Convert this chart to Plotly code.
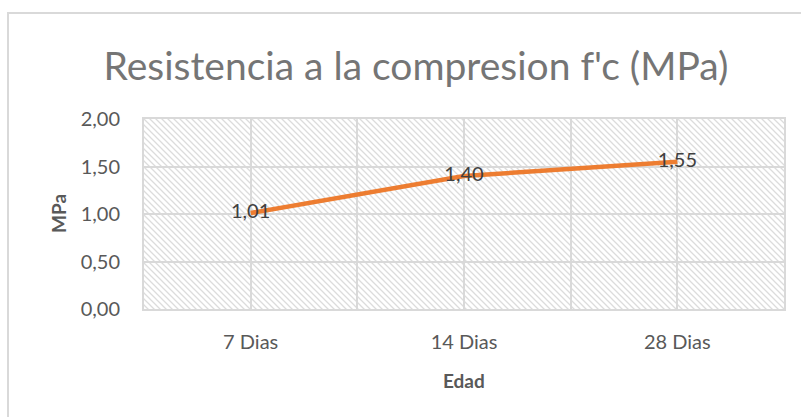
import base64
import plotly.graph_objects as go

categories = ["7 Dias", "14 Dias", "28 Dias"]
resistencia = [1.01, 1.40, 1.55]
y_ticks = [0, 0.5, 1.0, 1.5, 2.0]

title_text = "Resistencia a la compresion f'c (MPa)"
x_title = "Edad"
y_title = "MPa"

FONT = "Lato, 'Open Sans', sans-serif"
GRID = "#d9d9d9"

# hatch pattern background for plot area (SVG data URI)
W, H = 640, 190
svg = (
    f'<svg xmlns="http://www.w3.org/2000/svg" width="{W}" height="{H}" viewBox="0 0 {W} {H}" preserveAspectRatio="none">'
    '<defs><pattern id="p" patternUnits="userSpaceOnUse" width="6" height="6">'
    '<path d="M-1,-1 L7,7 M-4,2 L2,8 M4,-2 L8,2" stroke="#dcdcdc" stroke-width="1.3"/>'
    '</pattern></defs>'
    f'<rect width="{W}" height="{H}" fill="white"/>'
    f'<rect width="{W}" height="{H}" fill="url(#p)"/></svg>'
)
src = "data:image/svg+xml;base64," + base64.b64encode(svg.encode()).decode()

xs = list(range(len(categories)))

fig = go.Figure()
fig.add_trace(go.Scatter(
    x=xs, y=resistencia, mode="lines+text",
    line=dict(color="#ED7D31", width=4.5),
    texttemplate="%{y:.2f}", textposition="middle center",
    textfont=dict(family=FONT, size=20, color="#404040"),
    hoverinfo="skip", showlegend=False,
))

fig.update_layout(
    width=801, height=417,
    margin=dict(l=144, r=17, t=119, b=108),
    paper_bgcolor="white", plot_bgcolor="rgba(0,0,0,0)",
    separators=",.",
    font=dict(family=FONT, color="#595959"),
    title=dict(text=title_text, x=416 / 801, xanchor="center", xref="container",
               y=1 - 66 / 417, yanchor="middle",
               font=dict(family=FONT, size=39, color="#757575")),
    images=[dict(source=src, xref="paper", yref="paper", x=0, y=1,
                 sizex=1, sizey=1, xanchor="left", yanchor="top",
                 sizing="stretch", layer="below")],
    shapes=[dict(type="rect", xref="paper", yref="paper",
                 x0=(8 - 144) / 640, x1=1.2, y0=-0.7, y1=(309 - 13) / 190,
                 line=dict(color=GRID, width=2), layer="below")],
    annotations=[
        dict(text=f"<b>{x_title}</b>", xref="paper", yref="paper", x=0.5, y=0,
             xanchor="center", yanchor="middle", yshift=-71, showarrow=False,
             font=dict(family=FONT, size=19, color="#595959")),
        dict(text=f"<b>{y_title}</b>", xref="paper", yref="paper", x=0, y=0.5,
             xanchor="center", yanchor="middle", xshift=-86, textangle=-90,
             showarrow=False, font=dict(family=FONT, size=19, color="#595959")),
    ],
)

fig.update_xaxes(
    range=[-0.5, len(categories) - 0.5],
    tickvals=xs, ticktext=categories,
    showgrid=True, gridcolor=GRID, gridwidth=1.5,
    minor=dict(tick0=-0.5, dtick=1, showgrid=True, gridcolor=GRID, gridwidth=1.5),
    showline=True, linecolor=GRID, linewidth=2, mirror=True,
    zeroline=False,
    ticks="outside", ticklen=14, tickcolor="rgba(0,0,0,0)",
    tickfont=dict(family=FONT, size=20, color="#595959"),
)
fig.update_yaxes(
    range=[0, 2], tickvals=y_ticks, tickformat=".2f",
    showgrid=True, gridcolor=GRID, gridwidth=1.5,
    showline=True, linecolor=GRID, linewidth=2, mirror=True,
    zeroline=False,
    ticks="outside", ticklen=18, tickcolor="rgba(0,0,0,0)",
    tickfont=dict(family=FONT, size=20, color="#595959"),
)

fig.write_html("out.html", config={"displayModeBar": False},
               post_script="document.body.style.margin='0';")
